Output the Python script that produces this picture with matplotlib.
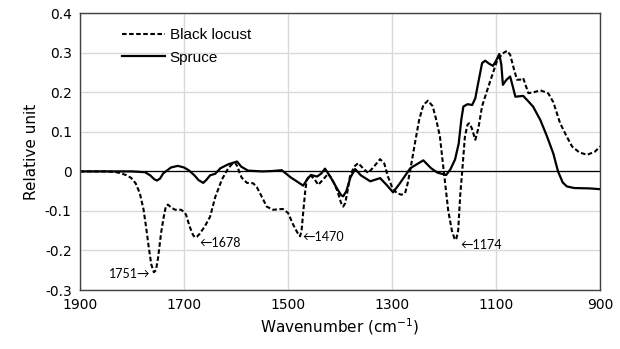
import matplotlib.pyplot as plt

# Black locust (dashed) - wavenumber / relative unit
bl_x = [1900, 1850, 1830, 1821, 1812, 1802, 1793, 1785, 1778, 1773, 1768, 1763, 1758,
        1754, 1750, 1744, 1739, 1735, 1731, 1724, 1717, 1706, 1700, 1696, 1689, 1683,
        1679, 1675, 1670, 1660, 1650, 1640, 1627, 1615, 1608, 1602, 1597, 1593, 1589,
        1579, 1567, 1560, 1554, 1541, 1529, 1510, 1500, 1490, 1482, 1477, 1474, 1471,
        1467, 1464, 1458, 1450, 1442, 1433, 1423, 1415, 1405, 1398, 1394, 1390, 1385,
        1381, 1373, 1365, 1356, 1346, 1335, 1323, 1315, 1308, 1300, 1291, 1282, 1275,
        1270, 1265, 1256, 1248, 1240, 1231, 1222, 1215, 1208, 1204, 1198, 1192, 1185,
        1180, 1177, 1173, 1169, 1165, 1160, 1155, 1152, 1147, 1140, 1134, 1127, 1115,
        1099, 1088, 1079, 1073, 1066, 1060, 1054, 1048, 1038, 1028, 1015, 1000, 990,
        977, 965, 954, 940, 925, 910, 900]
bl_y = [0.0, 0.0, -0.002, -0.005, -0.009, -0.016, -0.03, -0.055, -0.095, -0.14,
        -0.19, -0.235, -0.255, -0.25, -0.22, -0.155, -0.115, -0.089, -0.084, -0.092,
        -0.097, -0.097, -0.102, -0.11, -0.14, -0.16, -0.167, -0.165, -0.158, -0.139,
        -0.115, -0.065, -0.02, 0.008, 0.018, 0.022, 0.012, -0.005, -0.016, -0.029,
        -0.03, -0.04, -0.055, -0.089, -0.097, -0.095, -0.105, -0.135, -0.155, -0.164,
        -0.15, -0.105, -0.05, -0.021, -0.009, -0.018, -0.034, -0.021, -0.006, -0.02,
        -0.05, -0.08, -0.089, -0.08, -0.045, -0.013, 0.012, 0.021, 0.008, -0.004,
        0.012, 0.031, 0.02, -0.013, -0.04, -0.055, -0.059, -0.055, -0.03, 0.004,
        0.072, 0.13, 0.168, 0.179, 0.165, 0.13, 0.088, 0.04, -0.03, -0.1, -0.15,
        -0.17, -0.173, -0.15, -0.06, 0.004, 0.088, 0.118, 0.122, 0.11, 0.08, 0.11,
        0.165, 0.214, 0.277, 0.298, 0.305, 0.295, 0.26, 0.232, 0.232, 0.236, 0.198,
        0.2, 0.205, 0.198, 0.175, 0.122, 0.09, 0.063, 0.048, 0.042, 0.05, 0.063]

# Spruce (solid)
sp_x = [1900, 1800, 1775, 1765, 1757, 1752, 1746, 1740, 1725, 1712, 1700, 1690, 1680,
        1672, 1663, 1656, 1650, 1640, 1630, 1615, 1598, 1590, 1577, 1550, 1530, 1512,
        1495, 1480, 1471, 1463, 1456, 1444, 1436, 1429, 1419, 1405, 1398, 1394, 1388,
        1380, 1371, 1360, 1342, 1323, 1310, 1298, 1285, 1265, 1250, 1240, 1225, 1213,
        1196, 1188, 1179, 1172, 1167, 1163, 1155, 1146, 1140, 1135, 1127, 1121, 1113,
        1106, 1100, 1094, 1090, 1087, 1080, 1073, 1068, 1063, 1055, 1048, 1040, 1029,
        1015, 1002, 990, 981, 972, 964, 950, 920, 900]
sp_y = [0.0, 0.0, -0.002, -0.01, -0.02, -0.023, -0.018, -0.005, 0.01, 0.014, 0.01,
        0.002, -0.01, -0.022, -0.029, -0.02, -0.01, -0.006, 0.008, 0.018, 0.025,
        0.012, 0.002, 0.0, 0.001, 0.003, -0.015, -0.028, -0.036, -0.02, -0.009,
        -0.013, -0.005, 0.007, -0.013, -0.045, -0.06, -0.063, -0.05, -0.015, 0.006,
        -0.01, -0.025, -0.017, -0.035, -0.053, -0.03, 0.008, 0.02, 0.028, 0.008,
        -0.003, -0.009, 0.005, 0.03, 0.07, 0.13, 0.164, 0.17, 0.168, 0.185, 0.22,
        0.274, 0.28, 0.272, 0.267, 0.28, 0.297, 0.27, 0.219, 0.232, 0.24, 0.215,
        0.189, 0.19, 0.191, 0.18, 0.164, 0.13, 0.088, 0.045, 0.0, -0.028, -0.038,
        -0.042, -0.043, -0.045]

fig = plt.figure(figsize=(6.2, 3.49), dpi=100)
ax = fig.add_axes([0.129, 0.169, 0.839, 0.793])

plt.rcParams['font.family'] = ['Liberation Sans', 'DejaVu Sans']

ax.plot(bl_x, bl_y, color='black', linewidth=1.5, linestyle=(0, (2.2, 1.2)), label='Black locust')
ax.plot(sp_x, sp_y, color='black', linewidth=1.6, label='Spruce')
ax.axhline(0, color='black', linewidth=0.9, zorder=1)

ax.set_xlim(1900, 900)
ax.set_ylim(-0.3, 0.4)
ax.set_xticks([1900, 1700, 1500, 1300, 1100, 900])
yt = [-0.3, -0.2, -0.1, 0, 0.1, 0.2, 0.3, 0.4]
ax.set_yticks(yt)
ax.set_yticklabels(['-0.3', '-0.2', '-0.1', '0', '0.1', '0.2', '0.3', '0.4'])
ax.tick_params(length=0, labelsize=10, pad=6, colors='#404040')
for lbl in ax.get_xticklabels() + ax.get_yticklabels():
    lbl.set_color('black')
ax.grid(True, color='#d9d9d9', linewidth=1)
ax.set_axisbelow(True)
for s in ax.spines.values():
    s.set_color('#404040')
    s.set_linewidth(1)

ax.set_xlabel('Wavenumber (cm$^{\\mathregular{-1}}$)', fontsize=11, labelpad=3)
ax.set_ylabel('Relative unit', fontsize=11, labelpad=4)

ax.legend(loc='upper left', frameon=False, fontsize=11, handlelength=2.8,
          handletextpad=0.3, labelspacing=0.55, bbox_to_anchor=(0.055, 0.995))

ann = dict(fontsize=9, family=['Lato', 'DejaVu Sans'], va='center')
ax.text(1765, -0.259, '1751\u2192', ha='right', **ann)
ax.text(1670, -0.180, '\u21901678', ha='left', **ann)
ax.text(1472, -0.165, '\u21901470', ha='left', **ann)
ax.text(1168, -0.185, '\u21901174', ha='left', **ann)

plt.savefig('out.png', dpi=100)
